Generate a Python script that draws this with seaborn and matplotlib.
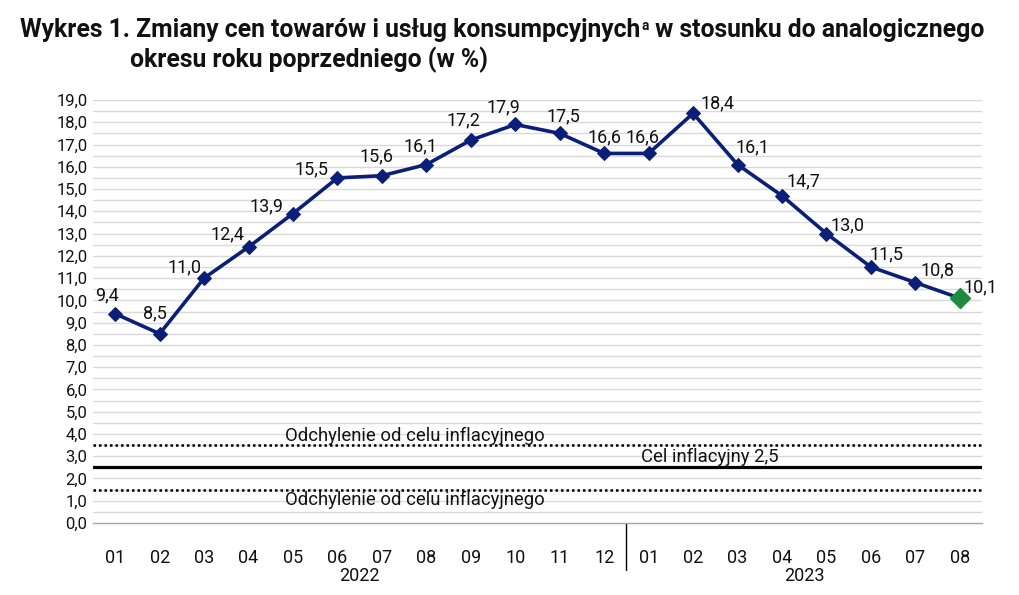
import numpy as np
import pandas as pd
import matplotlib
matplotlib.use("Agg")
import matplotlib.pyplot as plt
import matplotlib.transforms as mtransforms
import seaborn as sns

# ---- data ----
months = ["01", "02", "03", "04", "05", "06", "07", "08", "09", "10", "11", "12",
          "01", "02", "03", "04", "05", "06", "07", "08"]
years = ["2022", "2023"]
year_lengths = [12, 8]
cpi = [9.4, 8.5, 11.0, 12.4, 13.9, 15.5, 15.6, 16.1, 17.2, 17.9, 17.5, 16.6,
       16.6, 18.4, 16.1, 14.7, 13.0, 11.5, 10.8, 10.1]
target = 2.5
band_upper = 3.5
band_lower = 1.5
band_label = "Odchylenie od celu inflacyjnego"
target_label = "Cel inflacyjny 2,5"
title_a = "Wykres 1. Zmiany cen towarów i usług konsumpcyjnych"
title_sup = "a"
title_b = " w stosunku do analogicznego"
title_line2 = "okresu roku poprzedniego (w %)"

# label offsets (pixels) – style only
label_dx = [-8, -5, -20, -21, -27, -26, -5, -6, -7, -12, 4, 0, -6, 24, 15, 21, 21, 16, 22, 21]
label_dy = [18, 20, 11, 13, 7, 9, 19, 18, 20, 17, 17, 16, 16, 10, 17, 14, 8, 13, 12, 11]

sns.set_theme(style="white")
body_font = ["Roboto", "DejaVu Sans"]
title_font = ["Roboto", "DejaVu Sans"]
plt.rcParams["font.family"] = body_font

NAVY = "#0b1f78"
GREEN = "#1e8a3e"
TXT = "#111111"

fig = plt.figure(figsize=(10.2, 5.95), dpi=100)
ax = fig.add_axes([93 / 1020, (595 - 523) / 595, (982 - 93) / 1020, (523 - 100) / 595])

df = pd.DataFrame({"idx": np.arange(len(cpi)), "val": cpi})

# grid lines every 0.5
for g in np.arange(0.5, 19.01, 0.5):
    ax.axhline(g, color="#d9d9d9", lw=1.0, zorder=0)

# reference lines
ax.axhline(band_upper, color="black", lw=1.8, ls=(0, (1, 1.2)), zorder=1)
ax.axhline(band_lower, color="black", lw=1.8, ls=(0, (1, 1.2)), zorder=1)
ax.axhline(target, color="black", lw=2.3, zorder=1)
ax.text(6.74, 3.93, band_label, ha="center", va="center", fontsize=13.3, color=TXT)
ax.text(6.74, 1.03, band_label, ha="center", va="center", fontsize=13.3, color=TXT)
ax.text(13.38, 2.95, target_label, ha="center", va="center", fontsize=13.3, color=TXT)

sns.lineplot(data=df, x="idx", y="val", ax=ax, color=NAVY, lw=2.6, marker="D",
             markersize=7.5, markeredgecolor=NAVY, markerfacecolor=NAVY, zorder=3)
ax.plot(df["idx"].iloc[-1:], df["val"].iloc[-1:], marker="D", ls="none",
        markersize=10.5, color=GREEN, markeredgecolor=GREEN, zorder=4)

for i, v in enumerate(cpi):
    ax.annotate(f"{v:.1f}".replace(".", ","), (i, v), xytext=(label_dx[i], label_dy[i]),
                textcoords="offset pixels", ha="center", va="center", fontsize=13,
                color=TXT, zorder=5)

ax.set_xlim(-0.5, len(cpi) - 0.5)
ax.set_ylim(0, 19)
ax.set_yticks(np.arange(0, 19.01, 1.0))
ax.set_yticklabels([f"{t:.1f}".replace(".", ",") for t in np.arange(0, 19.01, 1.0)], fontsize=12)
ax.set_xticks(np.arange(len(cpi)))
ax.set_xticklabels(months, fontsize=13)
ax.set_xticks(np.arange(-0.5, len(cpi), 1.0), minor=True)
ax.tick_params(axis="x", which="major", length=0, pad=19, colors=TXT)
ax.tick_params(axis="x", which="minor", length=6, width=1, color="#a6a6a6", direction="out")
ax.tick_params(axis="y", which="major", length=0, pad=4, colors=TXT)
ax.set_xlabel("")
ax.set_ylabel("")
for s in ["top", "right", "left"]:
    ax.spines[s].set_visible(False)
ax.spines["bottom"].set_color("#a6a6a6")
ax.spines["bottom"].set_linewidth(1)

# year labels and separator
trans = mtransforms.blended_transform_factory(ax.transData, ax.transAxes)
start = 0
for yr, n in zip(years, year_lengths):
    ax.text(start + (n - 1) / 2, -0.125, yr, transform=trans, ha="center", va="center",
            fontsize=13, color=TXT)
    start += n
ax.plot([year_lengths[0] - 0.5, year_lengths[0] - 0.5], [0, -0.111], transform=trans,
        color="black", lw=1, clip_on=False)

# title with superscript, fitted to reference width
fig.canvas.draw()
r = fig.canvas.get_renderer()
W = fig.bbox.width


def draw_title(fs):
    objs = []
    t1 = fig.text(20 / W, 1 - 30 / 595, title_a, fontsize=fs, fontweight="bold",
                  family=title_font, va="center", ha="left", color=TXT)
    objs.append(t1)
    bb = t1.get_window_extent(r)
    t2 = fig.text(bb.x1 / W + 0.001, 1 - 26 / 595, title_sup, fontsize=fs * 0.55,
                  fontweight="bold", family=title_font, va="center", ha="left", color=TXT)
    objs.append(t2)
    bb2 = t2.get_window_extent(r)
    t3 = fig.text(bb2.x1 / W, 1 - 30 / 595, title_b, fontsize=fs, fontweight="bold",
                  family=title_font, va="center", ha="left", color=TXT)
    objs.append(t3)
    t4 = fig.text(130 / W, 1 - 60 / 595, title_line2, fontsize=fs, fontweight="bold",
                  family=title_font, va="center", ha="left", color=TXT)
    objs.append(t4)
    return objs, t3.get_window_extent(r).x1


fs = 15.5
objs, x_end = draw_title(fs)
for o in objs:
    o.remove()
fs = fs * (985 - 20) / (x_end - 20)
draw_title(fs)

fig.savefig("out.png", dpi=100)
